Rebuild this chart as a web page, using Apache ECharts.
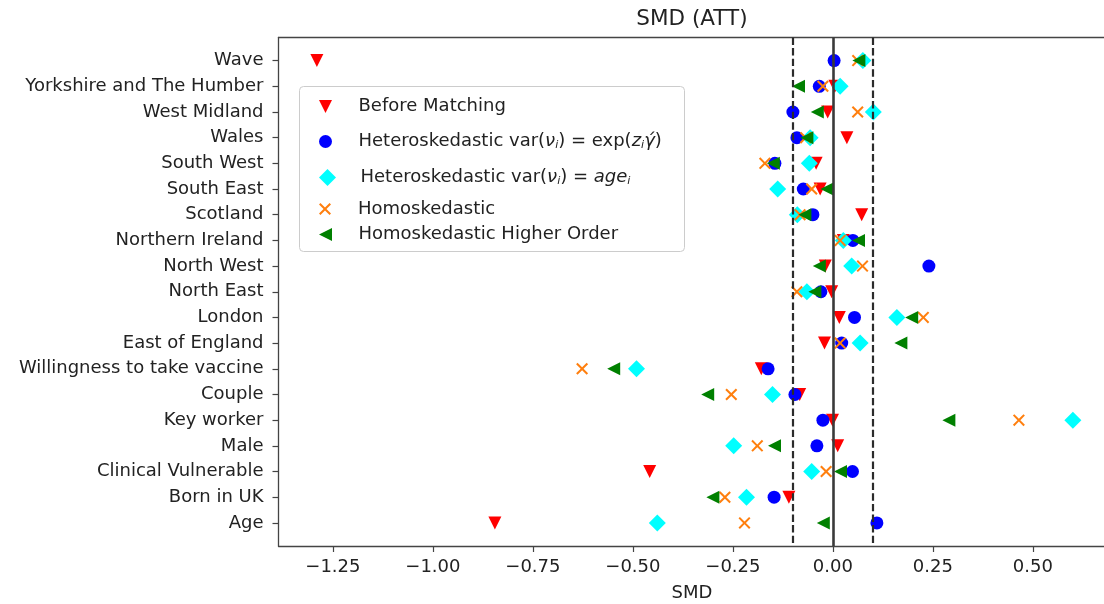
<!DOCTYPE html>
<html>
<head>
<meta charset="utf-8">
<title>SMD (ATT)</title>
<script src="https://cdn.jsdelivr.net/npm/echarts@6/dist/echarts.min.js"></script>
<style>
  html, body { margin: 0; padding: 0; background: #ffffff; }
  #chart { width: 1104px; height: 604px; }
</style>
</head>
<body>
<div id="chart"></div>
<script>
// Covariates, listed top to bottom
const covariates = [
  'Wave', 'Yorkshire and The Humber', 'West Midland', 'Wales', 'South West',
  'South East', 'Scotland', 'Northern Ireland', 'North West', 'North East',
  'London', 'East of England', 'Willingness to take vaccine', 'Couple',
  'Key worker', 'Male', 'Clinical Vulnerable', 'Born in UK', 'Age'
];

// Standardised mean differences per covariate
const beforeMatching = [-1.29, 0.005, -0.013, 0.035, -0.042, -0.032, 0.072, 0.026, -0.019, -0.003,
  0.016, -0.021, -0.179, -0.083, -0.001, 0.012, -0.458, -0.110, -0.845];
const heteroExp = [0.003, -0.034, -0.100, -0.090, -0.145, -0.074, -0.050, 0.050, 0.240, -0.030,
  0.054, 0.022, -0.162, -0.095, -0.025, -0.040, 0.049, -0.147, 0.110];
const heteroAge = [0.075, 0.018, 0.101, -0.057, -0.059, -0.138, -0.089, 0.026, 0.047, -0.065,
  0.160, 0.068, -0.491, -0.151, 0.600, -0.248, -0.053, -0.216, -0.439];
const homoskedastic = [0.062, -0.025, 0.062, -0.068, -0.170, -0.053, -0.082, 0.018, 0.074, -0.090,
  0.226, 0.018, -0.627, -0.254, 0.465, -0.189, -0.017, -0.270, -0.221];
const homoHigherOrder = [0.065, -0.086, -0.039, -0.065, -0.149, -0.015, -0.070, 0.064, -0.034, -0.045,
  0.197, 0.170, -0.548, -0.313, 0.290, -0.146, 0.019, -0.300, -0.024];

// Axis ticks and reference lines
const xTicks = [-1.25, -1.00, -0.75, -0.50, -0.25, 0.00, 0.25, 0.50];
const balanceBounds = [-0.1, 0.1];
const zeroLine = 0;

const FONT = 'DejaVu Sans';
const TEXT = '#222222';
const SPINE = '#444444';

const NAMES = {
  before: 'Before Matching',
  hexp: 'Heteroskedastic var(ν_i) = exp(z_i γ́)',
  hage: 'Heteroskedastic var(ν_i) = age_i',
  homo: 'Homoskedastic',
  homoHO: 'Homoskedastic Higher Order'
};

// Legend labels with math-style italics and subscripts
const richLabels = {};
richLabels[NAMES.before] = 'Before Matching';
richLabels[NAMES.hexp] = 'Heteroskedastic var({it|ν}{sub|i}) = exp({it|z}{sub|i}{it|γ́})';
richLabels[NAMES.hage] = 'Heteroskedastic var({it|ν}{sub|i}) = {it|age}{sub|i}';
richLabels[NAMES.homo] = 'Homoskedastic';
richLabels[NAMES.homoHO] = 'Homoskedastic Higher Order';

const SYM_DOWN = 'path://M0,0 L10,0 L5,10 Z';
const SYM_LEFT = 'path://M10,0 L10,10 L0,5 Z';
const SYM_DIAMOND = 'path://M5,0 L10,5 L5,10 L0,5 Z';
const SYM_X = 'path://M1.2,0 L5,3.8 L8.8,0 L10,1.2 L6.2,5 L10,8.8 L8.8,10 L5,6.2 L1.2,10 L0,8.8 L3.8,5 L0,1.2 Z';

const toPoints = arr => arr.map((v, i) => [v, i]);

const X_MIN = -1.386;
const X_MAX = 0.6815;

function scatter(name, values, symbol, size, color) {
  return {
    type: 'scatter',
    name: name,
    data: toPoints(values),
    symbol: symbol,
    symbolSize: size,
    symbolKeepAspect: true,
    itemStyle: { color: color, opacity: 1 },
    emphasis: { disabled: true },
    z: 3
  };
}

function legendFor(name, top, itemHeight) {
  return {
    data: [name],
    left: 319,
    top: top,
    padding: 0,
    orient: 'vertical',
    itemWidth: 56,
    itemHeight: itemHeight,
    selectedMode: false,
    symbolKeepAspect: true,
    formatter: n => richLabels[n],
    textStyle: {
      fontFamily: FONT, fontSize: 18, color: TEXT,
      rich: {
        it: { fontFamily: FONT, fontSize: 18, fontStyle: 'italic', color: TEXT },
        sub: { fontFamily: FONT, fontSize: 11, fontStyle: 'italic', color: TEXT, padding: [8, 0, 0, 0] }
      }
    },
    z: 5
  };
}

const chart = echarts.init(document.getElementById('chart'), null, { renderer: 'canvas' });

chart.setOption({
  animation: false,
  backgroundColor: '#ffffff',
  grid: {
    left: 278.5, top: 37.5, width: 827, height: 508.5,
    containLabel: false,
    outerBoundsMode: 'none'
  },
  xAxis: [
    {
      type: 'value',
      min: X_MIN,
      max: X_MAX,
      name: 'SMD',
      nameLocation: 'middle',
      nameGap: 38.5,
      nameTextStyle: { fontFamily: FONT, fontSize: 18, color: TEXT },
      axisLine: { show: true, onZero: false, lineStyle: { color: SPINE, width: 1.3 } },
      axisTick: { show: true, length: 6, customValues: xTicks, lineStyle: { color: SPINE, width: 1.2 } },
      axisLabel: {
        show: true, margin: 12.5, customValues: xTicks,
        fontFamily: FONT, fontSize: 18, color: TEXT,
        formatter: v => (v < 0 ? '\u2212' : '') + Math.abs(v).toFixed(2)
      },
      splitLine: { show: false }
    },
    {
      type: 'value',
      position: 'top',
      min: X_MIN,
      max: X_MAX,
      axisLine: { show: true, onZero: false, lineStyle: { color: SPINE, width: 1.3 } },
      axisTick: { show: false },
      axisLabel: { show: false },
      splitLine: { show: false }
    }
  ],
  yAxis: {
    type: 'value',
    inverse: true,
    min: -0.9,
    max: covariates.length - 1 + 0.9,
    axisLine: { show: true, onZero: false, lineStyle: { color: SPINE, width: 1.3 } },
    axisTick: { show: true, length: 6, customValues: covariates.map((_, i) => i), lineStyle: { color: SPINE, width: 1.2 } },
    axisLabel: {
      show: true, margin: 15, customValues: covariates.map((_, i) => i),
      fontFamily: FONT, fontSize: 18, color: TEXT,
      formatter: v => covariates[Math.round(v)]
    },
    splitLine: { show: false }
  },
  legend: [
    legendFor(NAMES.before, 97.5, 13),
    legendFor(NAMES.hexp, 132.5, 13),
    legendFor(NAMES.hage, 168.5, 17),
    legendFor(NAMES.homo, 200, 12),
    legendFor(NAMES.homoHO, 225.5, 13)
  ],
  graphic: [
    {
      type: 'text',
      x: 692,
      y: 19,
      style: {
        text: 'SMD (ATT)',
        font: '21.5px "DejaVu Sans"',
        fill: TEXT,
        textAlign: 'center',
        textVerticalAlign: 'middle'
      },
      z: 10
    },
    {
      type: 'rect',
      shape: { x: 299.5, y: 86.5, width: 385, height: 165, r: 4 },
      style: { fill: 'rgba(255,255,255,0.8)', stroke: '#cccccc', lineWidth: 1 },
      z: 4
    }
  ],
  series: [
    scatter(NAMES.before, beforeMatching, SYM_DOWN, 13, '#ff0000'),
    scatter(NAMES.hexp, heteroExp, 'circle', 13, '#0000ff'),
    scatter(NAMES.hage, heteroAge, SYM_DIAMOND, 17, '#00ffff'),
    scatter(NAMES.homo, homoskedastic, SYM_X, 12, '#ff7f0e'),
    scatter(NAMES.homoHO, homoHigherOrder, SYM_LEFT, 13, '#008000'),
    {
      type: 'scatter',
      name: 'reference',
      data: [],
      silent: true,
      z: 6,
      markLine: {
        silent: true,
        symbol: ['none', 'none'],
        label: { show: false },
        emphasis: { disabled: true },
        data: [
          { xAxis: balanceBounds[0], lineStyle: { color: '#2b2b2b', width: 2.2, type: [7.4, 3.2] } },
          { xAxis: balanceBounds[1], lineStyle: { color: '#2b2b2b', width: 2.2, type: [7.4, 3.2] } },
          { xAxis: zeroLine, lineStyle: { color: '#3a3a3a', width: 2.6, type: 'solid' } }
        ]
      }
    }
  ]
});
</script>
</body>
</html>
